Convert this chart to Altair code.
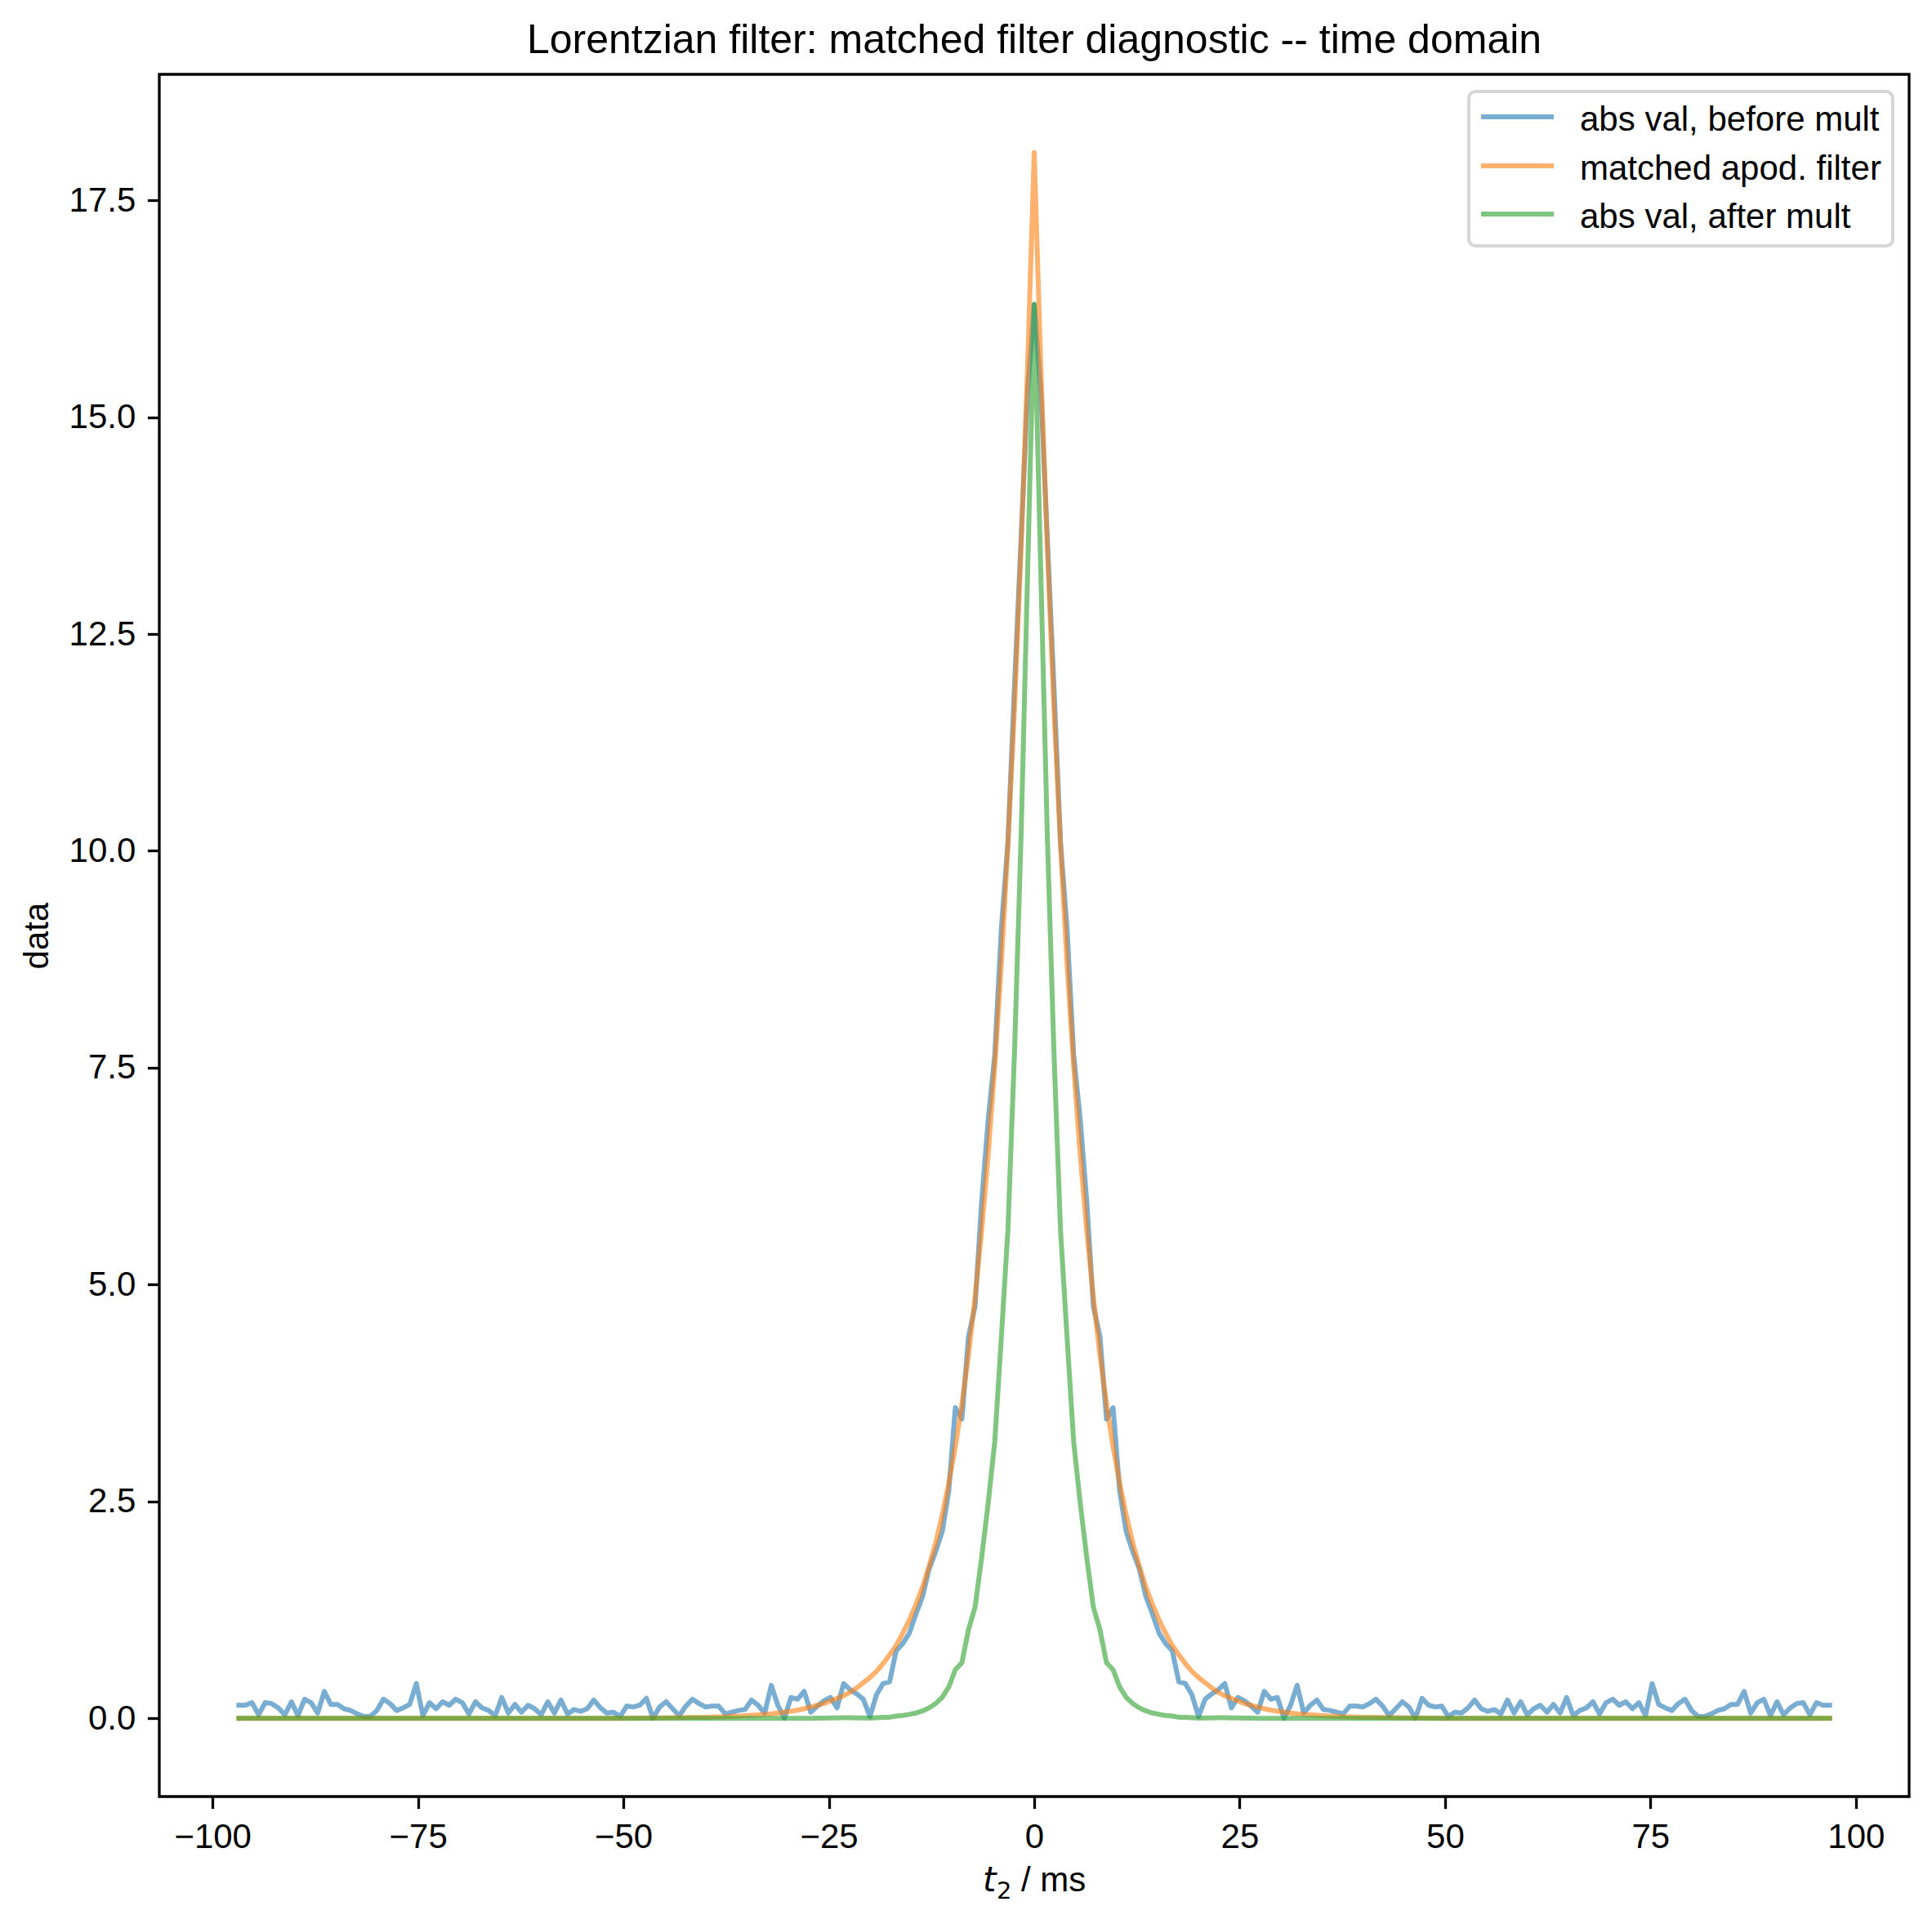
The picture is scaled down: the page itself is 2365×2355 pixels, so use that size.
import altair as alt
import pandas as pd

# ---- data (time axis: 0.8 ms steps, -96.8 .. 96.8 ms) ----
DT = 0.8
N_HALF = 121
TITLE = "Lorentzian filter: matched filter diagnostic -- time domain"
SERIES = ["abs val, before mult", "matched apod. filter", "abs val, after mult"]
COLORS = ["#1f77b4", "#ff7f0e", "#2ca02c"]
X_TICKS = [-100, -75, -50, -25, 0, 25, 50, 75, 100]
Y_TICKS = [0, 2.5, 5, 7.5, 10, 12.5, 15, 17.5]

# values from t = -96.8 ms up to t = 0 (the trace is mirror-symmetric about t = 0)
blue_left = [
    0.15, 0.15, 0.18, 0.04, 0.18, 0.17, 0.12, 0.04, 0.19,
    0.03, 0.22, 0.18, 0.06, 0.31, 0.16, 0.16, 0.11, 0.09, 0.05,
    0.02, 0.02, 0.09, 0.22, 0.17, 0.09, 0.12, 0.16, 0.40, 0.03,
    0.18, 0.11, 0.19, 0.15, 0.22, 0.18, 0.05, 0.19, 0.12, 0.09,
    0.03, 0.24, 0.06, 0.16, 0.07, 0.15, 0.11, 0.04, 0.19, 0.06,
    0.21, 0.05, 0.10, 0.08, 0.11, 0.21, 0.12, 0.06, 0.07, 0.02,
    0.14, 0.13, 0.15, 0.23, 0.00, 0.13, 0.19, 0.11, 0.03,
    0.14, 0.22, 0.17, 0.13, 0.14, 0.14, 0.05, 0.07, 0.09, 0.10,
    0.21, 0.15, 0.06, 0.38, 0.15, 0.00, 0.24, 0.22, 0.31, 0.07,
    0.14, 0.20, 0.24, 0.12, 0.40,
    0.33, 0.28, 0.22, 0.02, 0.27, 0.40, 0.42, 0.78, 0.86, 0.98,
    1.20, 1.40, 1.72, 1.92, 2.15, 2.62, 3.58, 3.45, 4.40, 4.75,
    5.95, 6.90, 7.65, 9.10, 10.10, 11.90, 13.60, 15.30, 16.30,
]

orange_left = [
    0.0, 0.0, 0.0, 0.0, 0.0, 0.0, 0.0, 0.0, 0.0, 0.0,
    0.0, 0.0, 0.0, 0.0, 0.0, 0.0, 0.0, 0.0, 0.0, 0.0,
    0.0, 0.0, 0.0, 0.0, 0.0, 0.0, 0.0, 0.0, 0.0, 0.0,
    0.0, 0.0, 0.0, 0.0, 0.0, 0.0, 0.0, 0.0, 0.0, 0.0,
    0.0, 0.0, 0.0, 0.0, 0.0, 0.0, 0.0, 0.0, 0.0, 0.0,
    0.0, 0.0, 0.0, 0.0, 0.0, 0.0, 0.0, 0.0, 0.0, 0.0,
    0.001, 0.002, 0.003, 0.004, 0.005, 0.006, 0.007, 0.008, 0.009, 0.010,
    0.011,
    0.012, 0.014, 0.016, 0.019, 0.022, 0.025, 0.029, 0.034, 0.039, 0.045,
    0.052, 0.061, 0.070, 0.081, 0.094, 0.11, 0.13, 0.15, 0.17, 0.20,
    0.23, 0.26, 0.30, 0.35, 0.41, 0.47, 0.54, 0.63, 0.73, 0.84,
    0.98, 1.13, 1.31, 1.51, 1.75, 2.02, 2.34, 2.71, 3.13, 3.62,
    4.19, 4.85, 5.62, 6.50, 7.52, 8.70, 10.07, 11.65, 13.48, 15.60,
    18.05,
]

green_left = [
    0.0, 0.0, 0.0, 0.0, 0.0, 0.0, 0.0, 0.0, 0.0, 0.0,
    0.0, 0.0, 0.0, 0.0, 0.0, 0.0, 0.0, 0.0, 0.0, 0.0,
    0.0, 0.0, 0.0, 0.0, 0.0, 0.0, 0.0, 0.0, 0.0, 0.0,
    0.0, 0.0, 0.0, 0.0, 0.0, 0.0, 0.0, 0.0, 0.0, 0.0,
    0.0, 0.0, 0.0, 0.0, 0.0, 0.0, 0.0, 0.0, 0.0, 0.0,
    0.0, 0.0, 0.0, 0.0, 0.0, 0.0, 0.0, 0.0, 0.0, 0.0,
    0.0, 0.0, 0.0, 0.0, 0.0, 0.0, 0.0, 0.0, 0.0, 0.0,
    0.0, 0.0, 0.0, 0.0, 0.0, 0.0, 0.0, 0.0, 0.0, 0.0,
    0.0, 0.0, 0.0, 0.0, 0.0, 0.0, 0.0, 0.0, 0.001, 0.002,
    0.003, 0.004,
    0.006, 0.006, 0.005, 0.005, 0.001, 0.006, 0.010, 0.012, 0.025, 0.033,
    0.045, 0.060, 0.085, 0.12, 0.17, 0.24, 0.36, 0.56, 0.64, 1.02,
    1.28, 1.85, 2.48, 3.19, 4.39, 5.63, 7.68, 10.16, 13.22, 16.30,
]

assert len(blue_left) == N_HALF + 1, len(blue_left)
assert len(orange_left) == N_HALF + 1, len(orange_left)
assert len(green_left) == N_HALF + 1, len(green_left)


def full(left):
    # the recorded traces are symmetric about t = 0
    return left + left[-2::-1]


t = [round(DT * k, 1) for k in range(-N_HALF, N_HALF + 1)]
values = [full(blue_left), full(orange_left), full(green_left)]

# ---- layout (pixels) ----
W, H = 2142, 2108
FONT = "Liberation Sans"
FS = 42

xscale = alt.Scale(domain=[-106.48, 106.48], nice=False, zero=False)
yscale = alt.Scale(domain=[-0.9025, 18.9525], nice=False, zero=False)

axis_common = dict(
    grid=False, domain=False, ticks=True, tickSize=14.6, tickWidth=3.3,
    tickColor="black", labelFont=FONT, labelFontSize=FS, labelColor="black",
    labelPadding=14.6, labelFlush=False, labelOverlap=False,
)
xaxis = alt.Axis(values=X_TICKS, format="d", title=None, **axis_common)
yaxis = alt.Axis(values=Y_TICKS, format=".1f", title="data", titleFont=FONT,
                 titleFontSize=FS, titleFontWeight="normal", titleColor="black",
                 titlePadding=17, **axis_common)

layers = []
for name, col, vals in zip(SERIES, COLORS, values):
    d = pd.DataFrame({"t": t, "v": vals, "series": name})
    layers.append(
        alt.Chart(d).mark_line(
            color=col, strokeWidth=6, opacity=0.6,
            strokeJoin="round", strokeCap="square",
        ).encode(
            x=alt.X("t:Q", scale=xscale, axis=xaxis),
            y=alt.Y("v:Q", scale=yscale, axis=yaxis),
        )
    )

one = alt.Data(values=[{}])

# chart title, centred above the plot area
layers.append(alt.Chart(one).mark_text(
    text=TITLE, font=FONT, fontSize=50, align="center",
    baseline="alphabetic", color="black",
).encode(x=alt.value(W / 2), y=alt.value(-26)))

# x-axis title: italic t with subscript 2, then " / ms"
layers.append(alt.Chart(one).mark_text(
    text="t", font="DejaVu Sans", fontStyle="italic", fontSize=FS,
    align="left", baseline="alphabetic", color="black",
).encode(x=alt.value(1008), y=alt.value(H + 116)))
layers.append(alt.Chart(one).mark_text(
    text="2", font="DejaVu Sans", fontSize=29,
    align="left", baseline="alphabetic", color="black",
).encode(x=alt.value(1025), y=alt.value(H + 125)))
layers.append(alt.Chart(one).mark_text(
    text="/ ms", font=FONT, fontSize=FS,
    align="left", baseline="alphabetic", color="black",
).encode(x=alt.value(1055), y=alt.value(H + 116)))

# legend (upper right)
layers.append(alt.Chart(one).mark_rect(
    fill="white", stroke="#d6d6d6", strokeWidth=4, cornerRadius=8,
).encode(x=alt.value(1603), x2=alt.value(2122), y=alt.value(21), y2=alt.value(210)))
row_y = [52, 112, 171]
for name, col, ry in zip(SERIES, COLORS, row_y):
    layers.append(alt.Chart(one).mark_rule(
        color=col, strokeWidth=6, opacity=0.6, strokeCap="butt",
    ).encode(x=alt.value(1618), x2=alt.value(1707), y=alt.value(ry)))
    layers.append(alt.Chart(one).mark_text(
        text=name, font=FONT, fontSize=FS, align="left",
        baseline="alphabetic", color="black",
    ).encode(x=alt.value(1739), y=alt.value(ry + 16.5)))

chart = alt.layer(*layers).properties(
    width=W, height=H,
    padding={"left": 187, "top": 83, "right": 20, "bottom": 140},
    autosize=alt.AutoSizeParams(type="none"),
).configure(background="white").configure_view(
    stroke="black", strokeWidth=3.3,
)

chart.save("out.html", embed_options={"renderer": "svg", "actions": False})
